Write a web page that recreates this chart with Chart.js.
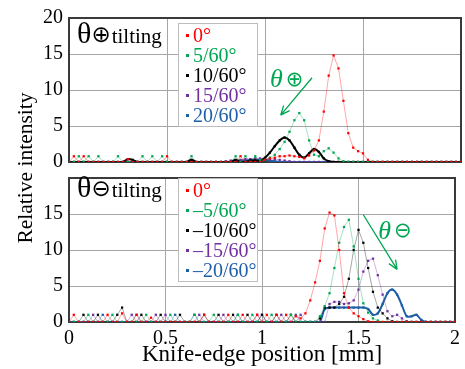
<!DOCTYPE html>
<html>
<head>
<meta charset="utf-8">
<script src="https://cdn.jsdelivr.net/npm/chart.js@4.4.1/dist/chart.umd.min.js"></script>
<style>
body { margin: 0; background: #fff; font-family: "Liberation Serif", "Times New Roman", serif; }
#wrap { position: relative; width: 465px; height: 369px; overflow: hidden; }
canvas { position: absolute; left: 0; }
#c1 { top: 0; }
#c2 { top: 160px; }
.ttl { position: absolute; left: 77px; white-space: nowrap; color: #000; line-height: 30px; }
.ttl .th { font-size: 30px; }
.ttl .op { font-size: 23px; font-family: "DejaVu Sans", sans-serif; margin: 0 1px 0 0; position: relative; top: -1px; }
.ttl .sub { font-size: 21px; }
.lg { position: absolute; left: 178px; width: 78px; border: 1px solid #bdbdbd; background: #fff;
      font-size: 20px; line-height: 20px; padding: 1px 0; }
.lg div { position: relative; padding-left: 14px; white-space: nowrap; }
.lg span { position: absolute; left: 7px; top: 9px; width: 3px; height: 3px; }
#ytitle { position: absolute; left: -75px; top: 156px; width: 200px; text-align: center;
          font-size: 21.5px; line-height: 24px; transform: rotate(-90deg); }
</style>
</head>
<body>
<div id="wrap">
  <canvas id="c1" width="465" height="180"></canvas>
  <canvas id="c2" width="465" height="209"></canvas>
  <div id="ytitle">Relative intensity</div>
  <div class="ttl" style="top:18px"><span class="th">θ</span><span class="op">⊕</span><span class="sub">tilting</span></div>
  <div class="ttl" style="top:172px"><span class="th">θ</span><span class="op">⊖</span><span class="sub">tilting</span></div>
  <div class="lg" id="lg1" style="top:23px"></div>
  <div class="lg" id="lg2" style="top:178px"></div>
</div>
<script>
// knife-edge positions [mm]
const xPos = [
  0,0.025,0.05,0.075,0.1,0.125,0.15,0.175,0.2,0.225,
  0.25,0.275,0.3,0.325,0.35,0.375,0.4,0.425,0.45,0.475,
  0.5,0.525,0.55,0.575,0.6,0.625,0.65,0.675,0.7,0.725,
  0.75,0.775,0.8,0.825,0.85,0.875,0.9,0.925,0.95,0.975,
  1,1.025,1.05,1.075,1.1,1.125,1.15,1.175,1.2,1.225,
  1.25,1.275,1.3,1.325,1.35,1.375,1.4,1.425,1.45,1.475,
  1.5,1.525,1.55,1.575,1.6,1.625,1.65,1.675,1.7,1.725,
  1.75,1.775,1.8,1.825,1.85,1.875,1.9,1.925,1.95,1.975,2
];

const labelsPlus = ['0°', '5/60°', '10/60°', '15/60°', '20/60°'];
const labelsMinus = ['0°', '–5/60°', '–10/60°', '–15/60°', '–20/60°'];
const colors = ['#ff0000', '#00a651', '#000000', '#7030a0', '#1f5fa8'];

// theta plus tilting
const plus0 = [
  0,0.8,0,0.8,0,0,0,0,0,0,
  0,0,0.4,0,0,0,0,0,0,0,
  0.8,0,0,0,0,0,0,0,0,0,
  0,0,0,0,0,0.8,0,0,0,0,
  0.3,0.5,0.6,0.8,0.8,0.9,0.8,0.7,0.5,0.9,
  1.6,3,7,12,14.8,13,8.5,4,2,1.5,
  1.2,0.3,0,0,0,0,0,0,0,0,
  0,0,0,0,0,0,0,0,0,0,0
];
const plus5 = [
  0,0,0.8,0,0.8,0,0.8,0,0,0,
  0.8,0,0,0,0,0.8,0,0.8,0,0.8,
  0,0,0,0,0,0.8,0,0,0,0,
  0,0,0,0,0.8,0,0.8,0,0.8,0.3,
  0.3,0.6,1,1.8,2.8,4.2,5.8,6.8,5.8,3,
  1,0.8,1.5,1.9,1.3,0.5,0.1,0,0,0,
  0,0,0,0,0,0,0,0,0,0,
  0,0,0,0,0,0,0,0,0,0,0
];
const plus10 = [
  0,0,0,0,0,0,0,0,0,0,
  0,0,0.4,0.3,0,0,0,0,0,0,
  0,0,0,0,0,0.3,0,0,0,0,
  0,0,0,0,0.3,0,0,0.2,0.2,0.2,
  0.6,1.3,2.2,3,3.4,3,2,1,0.6,1.2,
  1.8,1.4,0.5,0.1,0,0,0,0,0,0,
  0,0,0,0,0,0,0,0,0,0,
  0,0,0,0,0,0,0,0,0,0,0
];
const plus15 = [
  0,0,0,0,0,0,0,0,0,0,
  0,0,0,0,0,0,0,0,0,0,
  0,0,0,0,0,0,0,0,0,0,
  0,0,0.1,0.2,0.2,0.3,0.4,0.4,0.5,0.5,
  0.5,0.4,0.4,0.3,0.2,0.1,0,0,0,0,
  0,0,0,0,0,0,0,0,0,0,
  0,0,0,0,0,0,0,0,0,0,
  0,0,0,0,0,0,0,0,0,0,0
];
const plus20 = [
  0,0,0,0,0,0,0,0,0,0,
  0,0,0,0,0,0,0,0,0,0,
  0,0,0,0,0,0,0,0,0,0,
  0,0,0,0,0.1,0.2,0.2,0.3,0.3,0.3,
  0.3,0.2,0.1,0,0,0,0,0,0,0,
  0,0,0,0,0,0,0,0,0,0,
  0,0,0,0,0,0,0,0,0,0,
  0,0,0,0,0,0,0,0,0,0,0
];

// theta minus tilting
const minus0 = [
  0,1,0,0,0,0,0,0,1,0,
  0,1.2,0,0,1,0,0,0.6,0,0,
  0,0,0,0,0,0,0,0,1,0,
  0,0,0,1,0,0,1,0,0,1,
  0,1,0,1,0,1,0,0.8,0.5,1.2,
  3,5.5,8.5,13,15.2,14.8,10,4,2,1.2,
  0.8,0.4,0.1,0,0,0,0,0,0,0,
  0,0,0,0,0,0,0,0,0,0,0
];
const minus5 = [
  0,0,0,0,1,0,0,0,0,1,
  0,0,0,0,0,0,1,0,0,0,
  0,1,0,0,0,0,1,0,0,0,
  1,0,0,0,0,1,0,0,1,0,
  0,0,1,0,0,0,1,0,0,0,
  0,0,0.8,2.2,4,7.5,11,13.2,14.2,10.5,
  6,2.6,1.3,0.5,0.2,0,0,0,0,0,
  0,0,0,0,0,0,0,0,0,0,0
];
const minus10 = [
  0,0,0,1,0,0,1,0,0,0,
  1,2,0,0,0,1,0,0,0,1,
  0,0,0,1,0,0,0,0,1,0,
  0,1,0,0,1,0,0,1,0,0,
  1,0,0,1,0,0,1,0,0,0,
  0,0,0.5,2,2,2,2.5,3.5,6,10,
  12.8,11,7.5,4.2,2,1.2,0.5,0.1,0,0,
  0,0,0,0,0,0,0,0,0,0,0
];
const minus15 = [
  0,0,0,0,0,1,0,0,0,0,
  0,0,0,1,0,0,0,0,1,0,
  1,0,0,0,0,0,0,1,0,0,
  0,0,1,0,0,0,0,0,0,1,
  0,0,0,0,1,0,0,0,1,0,
  0,0,0,0,2.5,2.8,2.8,2.5,2.6,3,
  4.5,7,8.5,8.8,6.5,3.8,1.5,0.8,1,0.5,
  0.1,0,0,0,0,0,0,0,0,0,0
];
const minus20 = [
  0,0,0,0,0,0,0,1,0,0,
  0,0,0,0,1,0,0,0,0,0,
  0,0,1,0,0,0,1,0,0,0,
  0,0,0,0,0,1,0,0,0,0,
  1,0,0,0,0,0,0,1,0,0,
  0,0,0,1.8,2,2,2,2,2,2,
  2,2,1.8,1,1.2,2.5,4,4.5,3.8,2.3,
  0.8,0.8,1,0.3,0,0,0,0,0,0,0
];

const yTicks = [0, 5, 10, 15, 20];
const xTicks = [0, 0.5, 1, 1.5, 2];

Chart.defaults.font.family = '"Liberation Serif", "Times New Roman", serif';
Chart.defaults.color = '#000';

function fade(hex, a) {
  const n = parseInt(hex.slice(1), 16);
  return 'rgba(' + (n >> 16) + ',' + ((n >> 8) & 255) + ',' + (n & 255) + ',' + a + ')';
}

// dark plot frame, under the data so the blue zero line stays visible
const frame = {
  id: 'frame',
  beforeDatasetsDraw(c) {
    const a = c.chartArea, ctx = c.ctx;
    ctx.save();
    ctx.strokeStyle = '#3a3a3a';
    ctx.lineWidth = 2;
    ctx.strokeRect(a.left, a.top, a.width, a.height);
    ctx.restore();
  }
};

const notes = {
  id: 'notes',
  afterDatasetsDraw(c, args, o) {
    if (!o.text) return;
    const sx = c.scales.x, sy = c.scales.y, ctx = c.ctx;
    const col = '#00a651';
    ctx.save();
    ctx.fillStyle = col;
    ctx.textBaseline = 'middle';
    let tx = sx.getPixelForValue(o.at[0]), ty = sy.getPixelForValue(o.at[1]);
    ctx.font = 'italic 26px "Liberation Serif", serif';
    ctx.fillText('θ', tx, ty);
    tx += ctx.measureText('θ').width + 3;
    ctx.font = '21px "DejaVu Sans", sans-serif';
    ctx.fillText(o.text, tx, ty);
    const x1 = sx.getPixelForValue(o.from[0]), y1 = sy.getPixelForValue(o.from[1]);
    const x2 = sx.getPixelForValue(o.to[0]), y2 = sy.getPixelForValue(o.to[1]);
    ctx.strokeStyle = col;
    ctx.lineWidth = 1.3;
    ctx.beginPath();
    ctx.moveTo(x1, y1);
    ctx.lineTo(x2, y2);
    const ang = Math.atan2(y2 - y1, x2 - x1);
    for (const s of [-1, 1]) {
      ctx.moveTo(x2, y2);
      ctx.lineTo(x2 - 10 * Math.cos(ang + s * 0.4), y2 - 10 * Math.sin(ang + s * 0.4));
    }
    ctx.stroke();
    ctx.restore();
  }
};

// baseline noise segments of the bold series stay faint
function noisy(ctx) {
  return ctx.p0.parsed.x < 1.3 && (ctx.p0.parsed.y > 0.7 || ctx.p1.parsed.y > 0.7) &&
    !(ctx.p0.parsed.y > 1.5 || ctx.p1.parsed.y > 1.5);
}

function makeChart(id, names, series, bold, bottom, note) {
  const datasets = series.map((vals, k) => {
    const b = bold.includes(k);
    return {
      label: names[k],
      data: xPos.map((x, i) => ({ x: x, y: vals[i] })),
      borderColor: b ? colors[k] : fade(colors[k], 0.35),
      borderWidth: b ? 2 : 1,
      tension: b ? 0.3 : 0,
      segment: b ? {
        borderColor: c => noisy(c) && k === 4 ? fade(colors[k], 0.35) : undefined,
        borderWidth: c => noisy(c) && k === 4 ? 1 : undefined
      } : undefined,
      pointStyle: 'rect',
      pointRadius: 1.6,
      pointBorderWidth: 0,
      pointBackgroundColor: colors[k]
    };
  });

  const lg = document.getElementById(id === 'c1' ? 'lg1' : 'lg2');
  names.forEach((n, k) => {
    const d = document.createElement('div');
    d.style.color = colors[k];
    d.innerHTML = '<span style="background:' + colors[k] + '"></span>' + n;
    lg.appendChild(d);
  });

  return new Chart(document.getElementById(id), {
    type: 'line',
    data: { datasets: datasets },
    options: {
      responsive: false,
      animation: false,
      layout: { padding: bottom ? { top: 11, right: 4, bottom: 0 } : { top: 16, right: 4, bottom: 14 } },
      plugins: { legend: { display: false }, tooltip: { enabled: false }, notes: note },
      scales: {
        x: {
          type: 'linear', min: 0, max: 2,
          afterBuildTicks: s => { s.ticks = xTicks.map(v => ({ value: v })); },
          grid: { color: '#a6a6a6', drawTicks: false },
          border: { display: false },
          ticks: { display: bottom, padding: 5, font: { size: 20 }, callback: v => String(v) },
          title: { display: bottom, text: 'Knife-edge position [mm]', font: { size: 23 }, padding: { top: 0, bottom: 0 } },
          afterFit: s => { s.height = bottom ? 47 : 0; }
        },
        y: {
          min: 0, max: 20,
          afterBuildTicks: s => { s.ticks = yTicks.map(v => ({ value: v })); },
          grid: { color: '#a6a6a6', drawTicks: false },
          border: { display: false },
          ticks: { padding: 6, font: { size: 20 }, callback: v => (bottom && v === 20) ? '' : String(v) },
          afterFit: s => { s.width = 69; }
        }
      }
    },
    plugins: [frame, notes]
  });
}

makeChart('c1', labelsPlus, [plus0, plus5, plus10, plus15, plus20], [2, 4], false,
  { text: '⊕', at: [1.026, 11.3], from: [1.24, 11.7], to: [1.08, 6.5] });
makeChart('c2', labelsMinus, [minus0, minus5, minus10, minus15, minus20], [4], true,
  { text: '⊖', at: [1.602, 12.5], from: [1.525, 14.9], to: [1.70, 7.3] });
</script>
</body>
</html>
